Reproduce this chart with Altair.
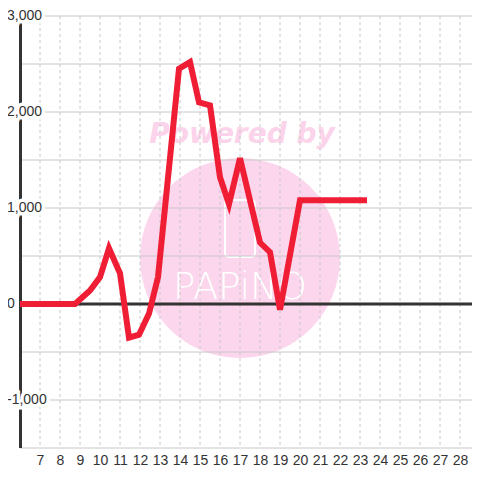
import altair as alt
import pandas as pd

# ---- data ----
line_x = [6, 8.75, 9.5, 10, 10.45, 11, 11.45, 11.95, 12.45, 12.9, 13.95, 14.5, 14.95, 15.5,
          16, 16.45, 17, 18, 18.5, 19, 20, 23.35]
line_y = [0, 0, 140, 280, 580, 320, -350, -320, -100, 280, 2450, 2520, 2100, 2070,
          1320, 1040, 1520, 640, 540, -60, 1080, 1080]
x_ticks = list(range(7, 29))
y_grid = [-1500, -1000, -500, 0, 500, 1000, 1500, 2000, 2500, 3000]
y_label_vals = [3000, 2000, 1000, 0, -1000]
y_label_text = ["3,000", "2,000", "1,000", "0", "-1,000"]

W, H = 452, 432
xs = alt.Scale(domain=[6, 28.6], nice=False, zero=False)
ys = alt.Scale(domain=[-1500, 3000], nice=False, zero=False)
x_axis = alt.Axis(values=x_ticks, grid=False, domain=False, ticks=False,
                  labelFontSize=14, labelColor="#333333", labelFont="Liberation Sans",
                  labelPadding=5, labelFlush=False, title=None)

line_df = pd.DataFrame({"x": line_x, "y": line_y})
xg_df = pd.DataFrame({"x": x_ticks})
yg_df = pd.DataFrame({"y": y_grid})
yl_df = pd.DataFrame({"y": y_label_vals, "t": y_label_text})
one = pd.DataFrame({"a": [0]})

# watermark
circle = alt.Chart(one).mark_circle(size=40000, color="#fbd6ec", opacity=1).encode(
    x=alt.value(220), y=alt.value(242))
powered = alt.Chart(one).mark_text(
    text="Powered by", font="DejaVu Sans", fontSize=28, fontWeight="bold", fontStyle="italic",
    color="#fbd3ea", align="center", baseline="middle").encode(x=alt.value(222), y=alt.value(119))
phone = alt.Chart(one).mark_rect(fillOpacity=0, stroke="white", strokeWidth=2, cornerRadius=4).encode(
    x=alt.value(205), x2=alt.value(235), y=alt.value(184), y2=alt.value(241))
logo = alt.Chart(one).mark_text(
    text="PAPiNO", font="DejaVu Sans", fontSize=37, fontWeight=200, color="white",
    align="center", baseline="middle").encode(x=alt.value(220), y=alt.value(272))

hgrid = alt.Chart(yg_df).mark_rule(color="#c8c8c8", strokeWidth=1).encode(
    y=alt.Y("y:Q", scale=ys, axis=None), x=alt.value(0), x2=alt.value(W))
vgrid = alt.Chart(xg_df).mark_rule(color="#c8c8c8", strokeWidth=1, strokeDash=[3, 3]).encode(
    x=alt.X("x:Q", scale=xs, axis=x_axis), y=alt.value(0), y2=alt.value(H))
zero = alt.Chart(one).mark_rule(color="#333333", strokeWidth=3).encode(
    y=alt.Y("a:Q", scale=ys, axis=None), x=alt.value(0), x2=alt.value(W))
yaxis = alt.Chart(one).mark_rule(color="#333333", strokeWidth=3).encode(
    x=alt.value(0.5), y=alt.value(0), y2=alt.value(H))

line = alt.Chart(line_df).mark_line(color="#ef1e35", strokeWidth=6).encode(
    x=alt.X("x:Q", scale=xs, axis=x_axis),
    y=alt.Y("y:Q", scale=ys, axis=None))

halo = alt.Chart(yl_df).mark_text(
    align="left", baseline="middle", fontSize=14, font="Liberation Sans",
    fill="white", stroke="white", strokeWidth=7).encode(
    y=alt.Y("y:Q", scale=ys, axis=None), x=alt.value(-13), text="t:N")
ylabels = alt.Chart(yl_df).mark_text(
    align="left", baseline="middle", fontSize=14, font="Liberation Sans", color="#333333").encode(
    y=alt.Y("y:Q", scale=ys, axis=None), x=alt.value(-13), text="t:N")

chart = alt.layer(circle, powered, phone, logo, hgrid, vgrid, zero, yaxis, line, halo, ylabels).properties(
    width=W, height=H,
    padding={"left": 12, "top": 8, "right": 0, "bottom": 20},
    autosize=alt.AutoSizeParams(type="none"),
    background="white",
).configure_view(stroke=None)

chart.save("out.html", embed_options={"renderer": "svg", "actions": False})
